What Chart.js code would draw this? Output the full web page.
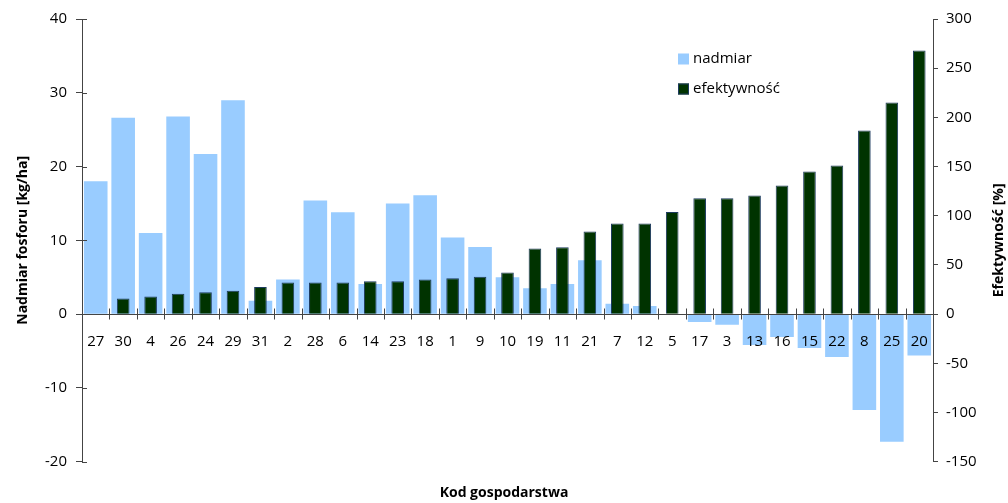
<!DOCTYPE html>
<html>
<head>
<meta charset="utf-8">
<script src="https://cdn.jsdelivr.net/npm/chart.js@4/dist/chart.umd.min.js"></script>
<style>
  html, body { margin: 0; padding: 0; background: #fff; }
  #wrap { position: relative; width: 1008px; height: 503px; }
</style>
</head>
<body>
<div id="wrap"><canvas id="c" width="1008" height="503"></canvas></div>
<script>
// Farm codes, in the order the bars are drawn
const farmCodes = ['27', '30', '4', '26', '24', '29', '31', '2', '28', '6', '14', '23', '18', '1', '9',
                   '10', '19', '11', '21', '7', '12', '5', '17', '3', '13', '16', '15', '22', '8', '25', '20'];

// Phosphorus surplus [kg/ha] (left axis)
const surplus = [18.0, 26.6, 11.0, 26.8, 21.7, 29.0, 1.8, 4.7, 15.4, 13.8, 4.1, 15.0, 16.1, 10.4, 9.1,
                 5.0, 3.5, 4.1, 7.3, 1.4, 1.1, 0, -1.05, -1.45, -4.2, -3.1, -4.6, -5.8, -13.0, -17.3, -5.6];

// Efficiency [%] (right axis)
const efficiency = [null, 16.0, 18.0, 20.6, 22.3, 23.7, 27.7, 32.2, 32.2, 32.2, 33.5, 33.5, 35.2, 36.6, 37.9,
                    42.3, 66.7, 68.1, 84.0, 92.2, 92.2, 103.7, 117.9, 117.9, 120.6, 130.8, 145.0, 151.1, 186.7, 215.1, 268.0];

// Axis ranges and steps
const leftRange = { min: -20, max: 40, step: 10 };
const rightRange = { min: -150, max: 300, step: 50 };

const seriesNames = ['nadmiar', 'efektywność'];
const axisTitles = { left: 'Nadmiar fosforu [kg/ha]', right: 'Efektywność [%]', bottom: 'Kod gospodarstwa' };

const FONT = "'Open Sans', 'Noto Sans', sans-serif";
const AXIS_COLOR = '#444';
Chart.defaults.font.family = FONT;
Chart.defaults.color = '#000';

// Short tick marks that cross the zero line and the left axis
const crossTicks = {
  id: 'crossTicks',
  afterDraw(chart) {
    const { ctx, scales: { x, yL } } = chart;
    const y0 = Math.round(yL.getPixelForValue(0)) + 0.5;
    const step = x.getPixelForValue(1) - x.getPixelForValue(0);
    ctx.save();
    ctx.strokeStyle = AXIS_COLOR;
    ctx.lineWidth = 1;
    ctx.beginPath();
    for (let i = 1; i < farmCodes.length; i++) {
      const bx = Math.round(x.getPixelForValue(i) - step / 2) + 0.5;
      ctx.moveTo(bx, y0 - 6);
      ctx.lineTo(bx, y0 + 5);
    }
    yL.ticks.forEach(t => {
      const py = Math.round(yL.getPixelForValue(t.value)) + 0.5;
      ctx.moveTo(yL.right, py);
      ctx.lineTo(yL.right + 5, py);
    });
    ctx.stroke();
    ctx.restore();
  }
};

// Right axis title, reading upwards
const rightTitle = {
  id: 'rightTitle',
  afterDraw(chart) {
    const { ctx, chartArea } = chart;
    ctx.save();
    ctx.font = 'bold 14px ' + FONT;
    ctx.fillStyle = '#000';
    ctx.textAlign = 'center';
    ctx.textBaseline = 'middle';
    ctx.translate(999, (chartArea.top + chartArea.bottom) / 2);
    ctx.rotate(-Math.PI / 2);
    ctx.fillText(axisTitles.right, 0, 0);
    ctx.restore();
  }
};

// Legend inside the plot, upper right
const insetLegend = {
  id: 'insetLegend',
  afterDraw(chart) {
    const { ctx } = chart;
    const x0 = 678, rows = [59, 89], box = 11;
    ctx.save();
    ctx.font = '15px ' + FONT;
    ctx.textBaseline = 'middle';
    ctx.textAlign = 'left';
    chart.data.datasets.forEach((ds, i) => {
      const cy = rows[i];
      ctx.fillStyle = ds.backgroundColor;
      ctx.fillRect(x0, cy - box / 2, box, box);
      if (ds.borderWidth) {
        ctx.strokeStyle = ds.borderColor;
        ctx.lineWidth = 1;
        ctx.strokeRect(x0 + 0.5, cy - box / 2 + 0.5, box - 1, box - 1);
      }
      ctx.fillStyle = '#000';
      ctx.fillText(ds.label, x0 + 15, cy);
    });
    ctx.restore();
  }
};

new Chart(document.getElementById('c'), {
  type: 'bar',
  data: {
    labels: farmCodes,
    datasets: [
      {
        label: seriesNames[0],
        data: surplus,
        yAxisID: 'yL',
        backgroundColor: '#99CCFF',
        borderWidth: 0,
        grouped: false,
        barPercentage: 0.86,
        categoryPercentage: 1,
        order: 1
      },
      {
        label: seriesNames[1],
        data: efficiency,
        yAxisID: 'yR',
        backgroundColor: '#003300',
        borderColor: '#1C3A5E',
        borderWidth: 1,
        grouped: false,
        barPercentage: 0.46,
        categoryPercentage: 1,
        order: 0
      }
    ]
  },
  options: {
    responsive: false,
    animation: false,
    layout: { padding: { top: 19, left: 0, right: 0, bottom: 0 } },
    plugins: {
      legend: { display: false },
      tooltip: { enabled: false },
      title: {
        display: true,
        text: axisTitles.bottom,
        position: 'bottom',
        color: '#000',
        font: { size: 14, weight: 'bold' },
        padding: { top: 23, bottom: 1.5 }
      }
    },
    scales: {
      x: {
        type: 'category',
        position: { yL: 0 },
        offset: true,
        grid: { drawOnChartArea: false, drawTicks: false, offset: true },
        border: { color: AXIS_COLOR, width: 1, z: 1 },
        ticks: { z: 1, autoSkip: false, maxRotation: 0, minRotation: 0, padding: 19, font: { size: 15 }, color: '#000' }
      },
      yL: {
        position: 'left',
        min: leftRange.min,
        max: leftRange.max,
        ticks: { stepSize: leftRange.step, padding: 9, font: { size: 15 }, color: '#000' },
        grid: { drawOnChartArea: false, tickLength: 6, color: AXIS_COLOR },
        border: { color: AXIS_COLOR },
        title: { display: true, text: axisTitles.left, color: '#000', font: { size: 14, weight: 'bold' }, padding: { top: 15, bottom: 0 } },
        afterFit(scale) { scale.width = 82; }
      },
      yR: {
        position: 'right',
        min: rightRange.min,
        max: rightRange.max,
        ticks: { stepSize: rightRange.step, padding: 8, font: { size: 15 }, color: '#000' },
        grid: { drawOnChartArea: false, tickLength: 5, color: AXIS_COLOR },
        border: { color: AXIS_COLOR },
        afterFit(scale) { scale.width = 75; }
      }
    }
  },
  plugins: [crossTicks, rightTitle, insetLegend]
});
</script>
</body>
</html>
